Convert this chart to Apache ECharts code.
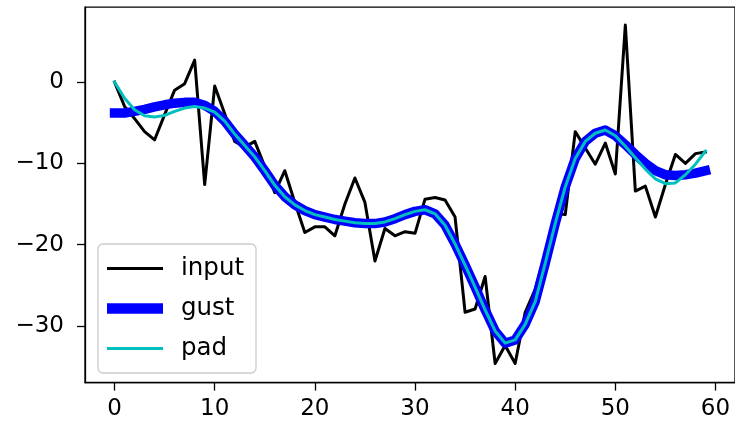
<!DOCTYPE html>
<html>
<head>
<meta charset="utf-8">
<script src="https://cdn.jsdelivr.net/npm/echarts@6/dist/echarts.min.js"></script>
<style>html,body{margin:0;padding:0;background:#fff;}#c{width:735px;height:425px;}</style>
</head>
<body>
<div id="c"></div>
<script>
var inputVals = [0.0, -3.0, -4.5, -6.1, -7.1, -4.0, -1.0, -0.2, 2.7, -12.6,
  -0.5, -3.9, -7.3, -8.0, -7.3, -10.4, -13.6, -10.9, -14.8, -18.5,
  -17.8, -17.8, -18.9, -15.0, -11.8, -14.8, -22.0, -18.0, -18.9, -18.4,
  -18.6, -14.4, -14.2, -14.5, -16.6, -28.3, -27.9, -23.9, -34.6, -32.4,
  -34.6, -28.3, -25.5, -21.0, -16.2, -16.3, -6.1, -8.1, -10.1, -7.5,
  -11.3, 7.0, -13.4, -12.8, -16.6, -12.6, -8.9, -10.0, -8.8, -8.6];
var gustVals = [-3.8, -3.8, -3.6, -3.35, -3.05, -2.8, -2.6, -2.5, -2.5, -2.85,
  -3.6, -4.8, -6.4, -7.8, -9.2, -10.9, -12.7, -14.1, -15.1, -15.8,
  -16.3, -16.6, -16.9, -17.1, -17.3, -17.4, -17.4, -17.2, -16.8, -16.3,
  -15.9, -15.7, -16.2, -17.6, -19.9, -22.5, -25.2, -28.0, -30.6, -32.1,
  -31.7, -29.8, -27.0, -22.3, -17.4, -12.9, -9.4, -7.3, -6.3, -5.9,
  -6.6, -7.7, -8.9, -10.0, -10.9, -11.4, -11.5, -11.4, -11.2, -10.9];
var padVals = [0.0, -2.0, -3.4, -4.15, -4.3, -4.1, -3.6, -3.2, -3.0, -3.2,
  -3.7, -4.8, -6.4, -7.8, -9.2, -10.9, -12.7, -14.1, -15.1, -15.8,
  -16.3, -16.6, -16.9, -17.1, -17.3, -17.4, -17.4, -17.2, -16.8, -16.3,
  -15.9, -15.7, -16.2, -17.6, -19.9, -22.5, -25.2, -28.0, -30.6, -32.1,
  -31.7, -29.8, -27.0, -22.3, -17.4, -12.9, -9.4, -7.3, -6.3, -5.9,
  -6.6, -7.9, -9.3, -10.7, -11.9, -12.5, -12.4, -11.4, -10.1, -8.5];
var xTicks = [0, 10, 20, 30, 40, 50, 60];
var yTicks = [-30, -20, -10, 0];
var seriesNames = ['input', 'gust', 'pad'];
var seriesColors = ['#000000', '#0000ff', '#00bfbf'];
var seriesWidths = [3, 9.5, 3];

function pairs(arr) { return arr.map(function (v, i) { return [i, v]; }); }
function fmt(v) { return v < 0 ? '\u2212' + Math.abs(v) : String(v); }

var FONT = 'DejaVu Sans';
var chart = echarts.init(document.getElementById('c'), null, {renderer: 'canvas'});
var valueLists = [inputVals, gustVals, padVals];
chart.setOption({
  animation: false,
  backgroundColor: '#ffffff',
  grid: {left: 85, top: 7.2, width: 652, height: 375.4, show: true, borderColor: '#000', borderWidth: 1.3, backgroundColor: 'transparent'},
  xAxis: {
    type: 'value', min: -2.95, max: 61.95,
    axisLine: {show: true, onZero: false, lineStyle: {color: '#000', width: 1.3}},
    axisTick: {show: true, customValues: xTicks, length: 8, lineStyle: {color: '#000', width: 1.3}},
    axisLabel: {customValues: xTicks, formatter: fmt, color: '#000', fontFamily: FONT, fontSize: 23, margin: 15},
    splitLine: {show: false}
  },
  yAxis: {
    type: 'value', min: -36.95, max: 9.2,
    axisLine: {show: true, onZero: false, lineStyle: {color: '#000', width: 1.3}},
    axisTick: {show: true, customValues: yTicks, length: 8, lineStyle: {color: '#000', width: 1.3}},
    axisLabel: {customValues: yTicks, formatter: fmt, color: '#000', fontFamily: FONT, fontSize: 23, margin: 21},
    splitLine: {show: false}
  },
  legend: {
    left: 98, top: 244, orient: 'vertical',
    data: seriesNames.map(function (n, i) {
      return {name: n, icon: 'path://M0,0H56V' + (i === 1 ? 10.5 : 3) + 'H0Z', itemStyle: {color: seriesColors[i]}};
    }),
    padding: [12, 12, 12, 9],
    itemWidth: 56, itemHeight: 12, itemGap: 15,
    symbolKeepAspect: true,
    backgroundColor: 'rgba(255,255,255,0.8)', borderColor: '#cccccc', borderWidth: 1.3, borderRadius: 5,
    textStyle: {color: '#000', fontFamily: FONT, fontSize: 24.5, padding: [0, 0, 0, 13]}
  },
  series: seriesNames.map(function (n, i) {
    return {name: n, type: 'line', data: pairs(valueLists[i]), symbol: 'none', z: 2 + i,
      lineStyle: {color: seriesColors[i], width: seriesWidths[i], join: 'round', cap: 'square'},
      itemStyle: {color: seriesColors[i]}};
  })
});
</script>
</body>
</html>
